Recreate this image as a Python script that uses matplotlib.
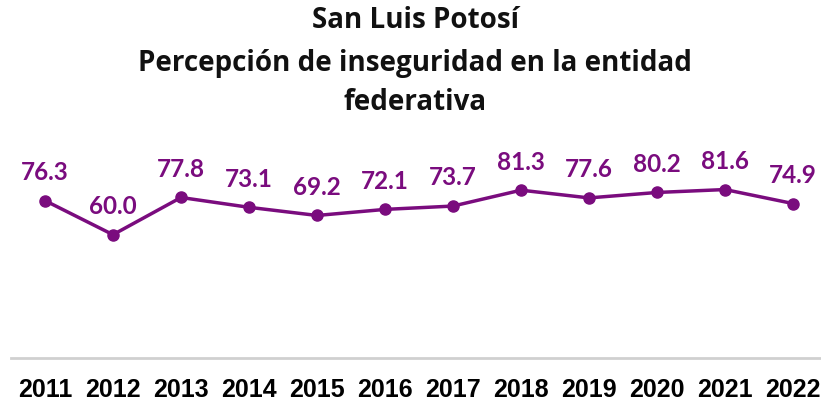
import matplotlib
matplotlib.use("Agg")
import matplotlib.pyplot as plt

years = ["2011", "2012", "2013", "2014", "2015", "2016", "2017", "2018", "2019", "2020", "2021", "2022"]
values = [76.3, 60.0, 77.8, 73.1, 69.2, 72.1, 73.7, 81.3, 77.6, 80.2, 81.6, 74.9]
title_lines = ["San Luis Potosí", "Percepción de inseguridad en la entidad", "federativa"]

purple = "#7A0C7E"
fig = plt.figure(figsize=(8.21, 4.02), dpi=100)
ax = fig.add_axes([11/821, 1 - 359/402, 816/821, 209/402])
x = list(range(len(years)))
ax.plot(x, values, color=purple, lw=2.5, marker="o", ms=8, zorder=3)
for xi, v in zip(x, values):
    ax.annotate(f"{v:.1f}", (xi, v), xytext=(0, 21), textcoords="offset points",
                ha="center", va="center", color=purple, fontsize=17.5,
                fontfamily="Lato", fontweight="bold")
ax.set_xlim(-0.5, len(years) - 0.5)
ax.set_ylim(1, 101)
ax.set_xticks(x)
ax.set_xticklabels(years, fontsize=18, fontweight="bold", fontfamily="Liberation Sans")
ax.tick_params(axis="x", length=0, pad=14)
ax.set_yticks([])
for s in ["top", "left", "right"]:
    ax.spines[s].set_visible(False)
ax.spines["bottom"].set_color("#D0D0D0")
ax.spines["bottom"].set_linewidth(2)

for i, (t, yy) in enumerate(zip(title_lines, [21, 63, 103])):
    fig.text(415/821, 1 - yy/402, t, ha="center", va="center", fontsize=20,
             fontweight="bold", fontfamily="Open Sans", color="#111111")

fig.savefig("out.png", dpi=100)
